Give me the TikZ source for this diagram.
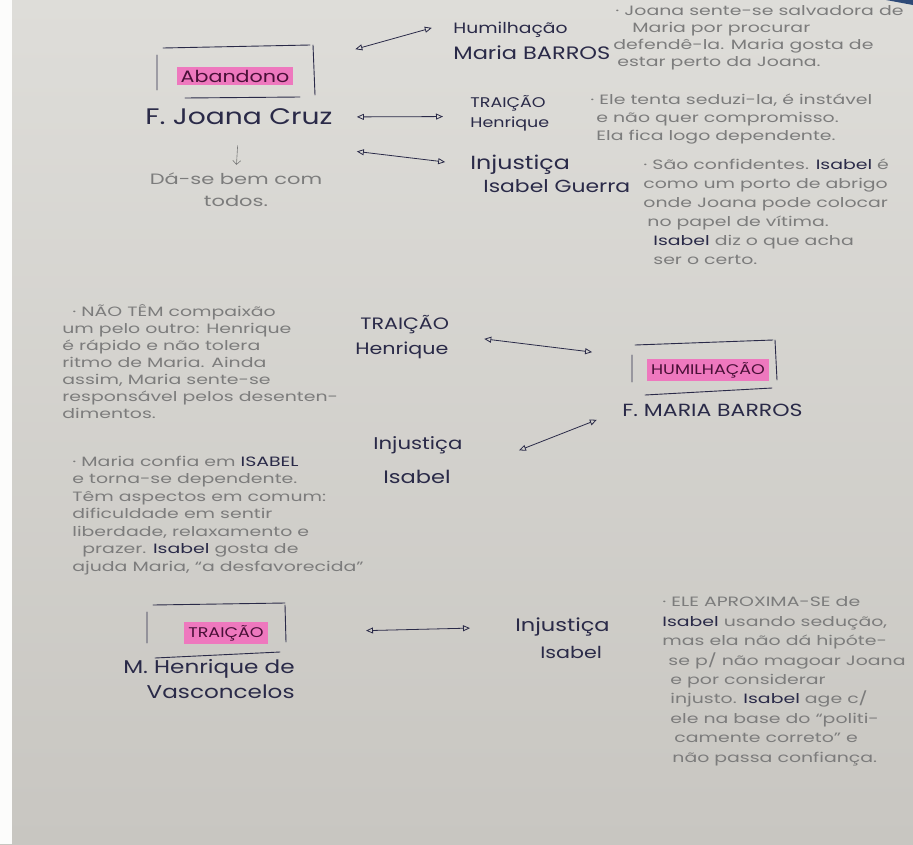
\documentclass[tikz,border=0pt]{standalone}
\usepackage{fontspec}
\newfontfamily\handfont[FakeStretch=1.25]{Poppins}
\newfontfamily\notefont[FakeStretch=1.4]{Poppins}
\usetikzlibrary{arrows.meta}

\definecolor{ink}{HTML}{2A2A48}
\definecolor{graphite}{HTML}{7C7C7C}
\definecolor{marker}{HTML}{EE78BE}
\definecolor{markerink}{HTML}{4A1038}
\definecolor{paperlight}{HTML}{DEDDD9}
\definecolor{paperdark}{HTML}{C8C6C1}
\definecolor{cover}{HTML}{2E4A78}

\begin{document}
\begin{tikzpicture}[x=1pt, y=-1pt, thick,
    pen/.style={text=ink, inner sep=0pt, anchor=west, font=\handfont\fontsize{#1}{24}\selectfont},
    pen/.default=16.5,
    pencil/.style={text=graphite, inner sep=0pt, anchor=base west, align=left, font=\notefont\fontsize{13.5}{#1}\selectfont},
    marked/.style={fill=marker, text=markerink, inner xsep=4pt, inner ysep=3pt, font=\handfont\fontsize{#1}{20}\selectfont},
    frame/.style={draw=ink, line width=0.9pt, line cap=round},
    rel/.style={draw=ink, line width=0.8pt, {Triangle[open,length=7pt,width=6pt]}-{Triangle[open,length=7pt,width=6pt]}}
  ]
  \shade[top color=paperlight, bottom color=paperdark] (0,0) rectangle (913,844);
  \fill[white!90!paperlight] (0,0) rectangle (12,844);
  \fill[cover] (886,0) -- (913,0) -- (913,5) -- cycle;
  \useasboundingbox (0,0) rectangle (913,844);

  % Joana Cruz
  \node[marked=16.5] (abandono) at (235,76) {Abandono};
  \draw[frame] (163,48) -- (310,45) (157,55) -- (157,90) (313,45) -- (315,95) (185,98) -- (300,97);
  \node[pen=22.5] (joana) at (145,117) {F. Joana Cruz};
  \node[text=graphite, inner sep=0pt, anchor=base, align=center, font=\notefont\fontsize{15}{22}\selectfont] (dase) at (236,206) {Dá-se bem com\\todos.};
  \draw[graphite, line width=0.6pt, shorten <=20pt, shorten >=7pt, -{Straight Barb[length=4pt]}] (joana.south) -- (dase.north);

  \node[pen=15] (hum) at (453,30) {Humilhação};
  \node[pen=18] (humname) at (453,53) {Maria BARROS};
  \node[pen=14] (trai1) at (470,103) {TRAIÇÃO};
  \node[pen=14] (henr1) at (470,124) {Henrique};
  \node[pen=19] (inj1) at (470,165) {Injustiça};
  \node[pen=17.5] (isab1) at (483,186) {Isabel Guerra};

  \draw[rel, shorten <=64pt, shorten >=22pt] (abandono.north east) -- (hum.north west);
  \draw[rel, shorten <=24pt, shorten >=27pt] (joana.east) -- (henr1.north west);
  \draw[rel, shorten >=25pt] ([xshift=24pt,yshift=-26pt]joana.south east) -- (inj1.west);

  \node[pencil=16.7] (savior) at (613,66) {\hspace*{2pt}· Joana sente-se salvadora de\\
    \hspace*{19pt}Maria por procurar\\
    defendê-la. Maria gosta de\\
    \hspace*{4pt}estar perto da Joana.};
  \node[pencil=18] (unstable) at (590,140) {· Ele tenta seduzi-la, é instável\\
    \hspace*{6pt}e não quer compromisso.\\
    \hspace*{6pt}Ela fica logo dependente.};
  \node[pencil=19] (shelter) at (643,264) {· São confidentes. {\color{ink}Isabel} é\\
    como um porto de abrigo\\
    onde Joana pode colocar\\
    \hspace*{4pt}no papel de vítima.\\
    \hspace*{10pt}{\color{ink}Isabel} diz o que acha\\
    \hspace*{10pt}ser o certo.};

  % Maria Barros
  \node[pencil=17] (rhythm) at (62,418) {\hspace*{10pt}· NÃO TÊM compaixão\\
    um pelo outro: Henrique\\
    é rápido e não tolera\\
    ritmo de Maria. Ainda\\
    assim, Maria sente-se\\
    responsável pelos desenten-\\
    dimentos.};
  \node[pencil=17.5] (trust) at (72,571) {· Maria confia em {\color{ink}ISABEL}\\
    e torna-se dependente.\\
    Têm aspectos em comum:\\
    dificuldade em sentir\\
    liberdade, relaxamento e\\
    \hspace*{10pt}prazer. {\color{ink}Isabel} gosta de\\
    ajuda Maria, “a desfavorecida”};

  \node[pen] (trai2) at (360,325) {TRAIÇÃO};
  \node[pen] (henr2) at (355,350) {Henrique};
  \node[marked=14] (humilha) at (708,370) {HUMILHAÇÃO};
  \draw[frame] (635,345) -- (773,340) (632,355) -- (632,382) (775,340) -- (777,380) (645,395) -- (772,388);
  \node[pen=17.6] (maria) at (622,410) {F. MARIA BARROS};
  \node[pen=17] (inj2) at (373,445) {Injustiça};
  \node[pen=18] (isab2) at (383,477) {Isabel};

  \draw[rel, shorten <=35pt, shorten >=55pt] (trai2.south east) -- (humilha.north west);
  \draw[rel, shorten <=73pt, shorten >=27pt] (isab2.east) -- (maria.west);

  % Henrique de Vasconcelos
  \node[marked=14] (trai3) at (226,633) {TRAIÇÃO};
  \draw[frame] (153,605) -- (285,603) (147,612) -- (147,643) (285,605) -- (286,642) (155,658) -- (280,652);
  \node[text=ink, inner sep=0pt, anchor=base east, align=right, font=\handfont\fontsize{18.5}{25}\selectfont] (henrique) at (295,698) {M. Henrique de\\Vasconcelos};
  \node[pen=18] (inj3) at (515,627) {Injustiça};
  \node[pen] (isab3) at (540,652) {Isabel};
  \draw[rel, shorten <=98pt, shorten >=45pt] (trai3.east) -- (inj3.west);

  \node[pencil=19.4] (approach) at (662,762) {· ELE APROXIMA-SE de\\
    {\color{ink}Isabel} usando sedução,\\
    mas ela não dá hipóte-\\
    \hspace*{6pt}se p/ não magoar Joana\\
    \hspace*{8pt}e por considerar\\
    \hspace*{8pt}injusto. {\color{ink}Isabel} age c/\\
    \hspace*{8pt}ele na base do “politi-\\
    \hspace*{12pt}camente correto” e\\
    \hspace*{10pt}não passa confiança.};
\end{tikzpicture}
\end{document}
